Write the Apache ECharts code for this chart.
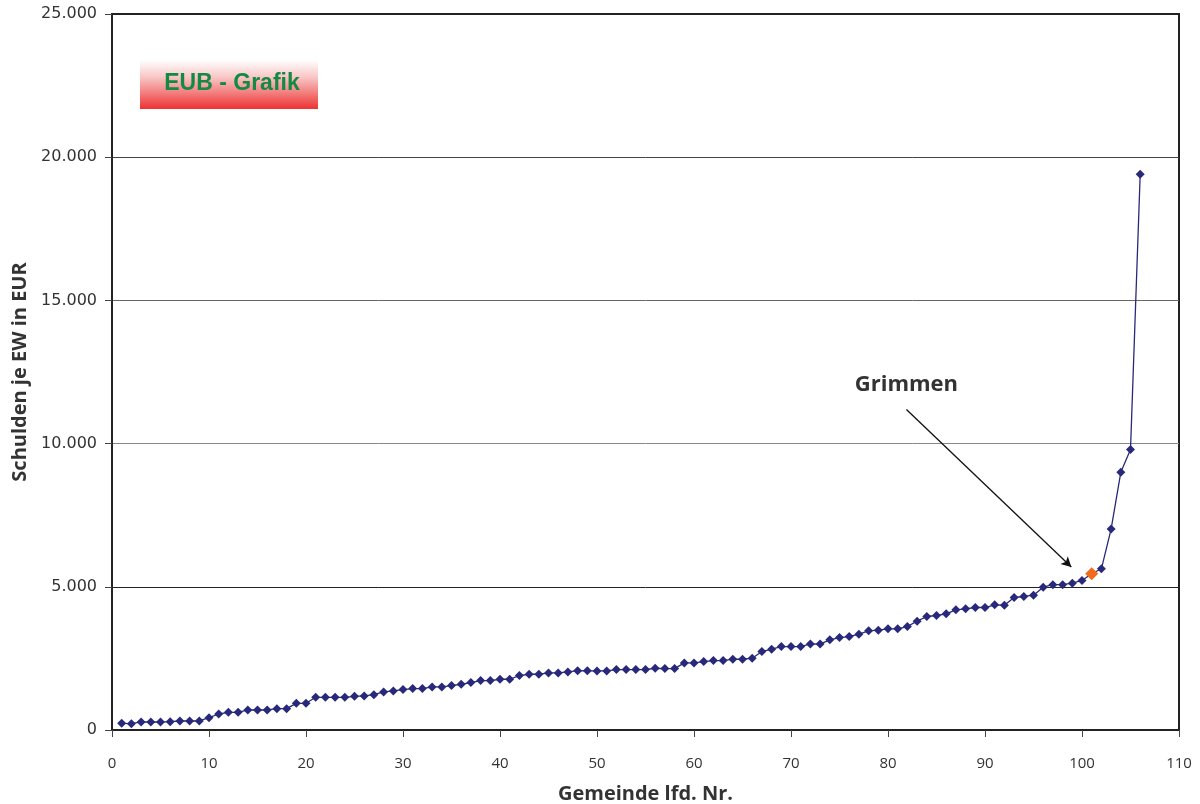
<!DOCTYPE html>
<html>
<head>
<meta charset="utf-8">
<script src="https://cdn.jsdelivr.net/npm/echarts@6/dist/echarts.min.js"></script>
<style>
  html, body { margin: 0; padding: 0; background: #fff; }
  #chart { width: 1200px; height: 804px; }
</style>
</head>
<body>
<div id="chart"></div>
<script>
// Schulden je Einwohner (EUR), Gemeinden sortiert nach lfd. Nr. 1..106
const schuldenJeEW = [
  234, 221, 280, 280, 280, 291, 315, 315, 315, 431,
  559, 618, 618, 699, 699, 699, 746, 746, 932, 932,
  1142, 1142, 1142, 1142, 1177, 1189, 1235, 1329, 1364, 1410,
  1445, 1445, 1503, 1503, 1550, 1597, 1655, 1725, 1725, 1772,
  1772, 1900, 1946, 1946, 1993, 1993, 2028, 2070, 2065, 2063,
  2063, 2110, 2110, 2110, 2110, 2156, 2145, 2145, 2343, 2343,
  2389, 2424, 2424, 2471, 2471, 2506, 2739, 2821, 2914, 2914,
  2914, 3007, 3000, 3147, 3228, 3263, 3345, 3462, 3485, 3531,
  3531, 3613, 3800, 3963, 3998, 4056, 4196, 4231, 4277, 4277,
  4371, 4359, 4627, 4662, 4709, 4988, 5075, 5075, 5128, 5221,
  5455, 5629, 7016, 8998, 9790, 19406
];
const grimmenNr = 101;
const grimmenLabel = 'Grimmen';
const xTicks = { min: 0, max: 110, step: 10 };
const yTicks = { min: 0, max: 25000, step: 5000 };
// arrow from the label down to the highlighted municipality
const arrowFrom = [81.9, 11190];
const arrowTo = [98.9, 5690];
const labelAt = [81.9, 12050];

const points = schuldenJeEW.map((v, i) => {
  const nr = i + 1;
  if (nr === grimmenNr) {
    return {
      value: [nr, v],
      symbolSize: 13,
      itemStyle: { color: '#f26a1b' },
      z: 5
    };
  }
  return [nr, v];
});

const fmtThousands = v => String(v).replace(/\B(?=(\d{3})+(?!\d))/g, '.');

const chart = echarts.init(document.getElementById('chart'), null, { renderer: 'canvas' });
chart.setOption({
  backgroundColor: '#ffffff',
  animation: false,
  grid: {
    left: 112, right: 21, top: 14, bottom: 74,
    outerBoundsMode: 'none',
    containLabel: false,
    show: true, borderColor: '#222', borderWidth: 2, backgroundColor: 'transparent'
  },
  xAxis: {
    type: 'value',
    min: xTicks.min, max: xTicks.max, interval: xTicks.step,
    name: 'Gemeinde lfd. Nr.',
    nameLocation: 'middle',
    nameGap: 54,
    nameTextStyle: { fontFamily: 'Open Sans', fontWeight: 'bold', fontSize: 20, color: '#333' },
    axisLine: { show: true, lineStyle: { color: '#222', width: 2 } },
    axisTick: { show: true, length: 7, lineStyle: { color: '#444' } },
    axisLabel: { margin: 26, fontFamily: 'Open Sans', fontSize: 15, color: '#333' },
    splitLine: { show: false }
  },
  yAxis: {
    type: 'value',
    min: yTicks.min, max: yTicks.max, interval: yTicks.step,
    name: 'Schulden je EW in EUR',
    nameLocation: 'middle',
    nameGap: 78,
    nameTextStyle: { fontFamily: 'Open Sans', fontWeight: 'bold', fontSize: 20, color: '#333' },
    axisLine: { show: true, lineStyle: { color: '#222', width: 2 } },
    axisTick: { show: true, length: 7, lineStyle: { color: '#444' } },
    axisLabel: {
      margin: 15, fontFamily: 'DejaVu Sans', fontSize: 16, color: '#333',
      padding: [6, 0, 0, 0],
      formatter: fmtThousands
    },
    splitLine: {
      show: true,
      lineStyle: { color: ['#222', '#222', '#888', '#666', '#444', '#222'], width: 1 }
    }
  },
  graphic: [
    {
      type: 'group',
      left: 140, top: 60,
      children: [
        {
          type: 'rect',
          shape: { x: 0, y: 0, width: 178, height: 49 },
          style: {
            fill: new echarts.graphic.LinearGradient(0, 0, 0, 1, [
              { offset: 0, color: '#ffffff' },
              { offset: 0.35, color: '#f8c6c6' },
              { offset: 1, color: '#ee3333' }
            ])
          }
        },
        {
          type: 'text',
          x: 92, y: 24,
          style: {
            text: 'EUB - Grafik',
            fill: '#128a44',
            font: 'bold 23px "Liberation Sans", Arial, sans-serif',
            align: 'center',
            verticalAlign: 'middle'
          }
        }
      ]
    }
  ],
  series: [
    {
      type: 'line',
      data: points,
      symbol: 'diamond',
      symbolSize: 9,
      showAllSymbol: true,
      lineStyle: { color: '#28297a', width: 1.3 },
      itemStyle: { color: '#28297a' },
      z: 3,
      markLine: {
        silent: true,
        symbol: ['none', 'arrow'],
        symbolSize: [8, 10],
        lineStyle: { color: '#111', width: 1.3, type: 'solid' },
        label: { show: false },
        data: [[{ coord: arrowFrom }, { coord: arrowTo }]]
      },
      markPoint: {
        silent: true,
        symbol: 'circle',
        symbolSize: 0,
        label: {
          show: true,
          formatter: grimmenLabel,
          fontFamily: 'Open Sans',
          fontWeight: 'bold',
          fontSize: 22,
          color: '#333',
          position: 'inside'
        },
        data: [{ coord: labelAt }]
      }
    }
  ]
});
</script>
</body>
</html>
